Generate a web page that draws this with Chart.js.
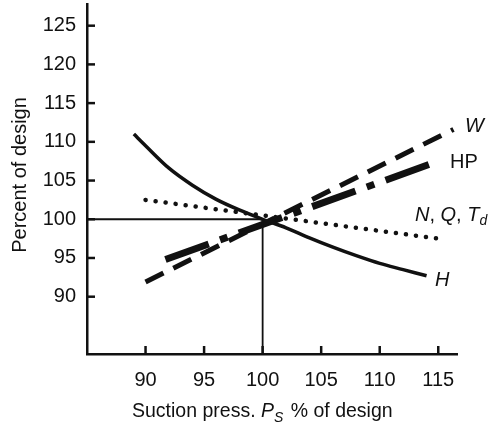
<!DOCTYPE html>
<html>
<head>
<meta charset="utf-8">
<script src="https://cdn.jsdelivr.net/npm/chart.js@4.4.0/dist/chart.umd.min.js"></script>
<style>
  body { margin: 0; background: #fff; }
  #wrap { width: 492px; height: 425px; }
</style>
</head>
<body>
<div id="wrap"><canvas id="chart" width="492" height="425"></canvas></div>
<script>
// values
const xTicks = [90, 95, 100, 105, 110, 115];
const yTicks = [90, 95, 100, 105, 110, 115, 120, 125];

const headX = [89, 90, 92, 94, 96, 98, 100, 102, 104, 106, 108, 110, 112, 114];
const headY = [111, 109.5, 106.6, 104.4, 102.6, 101.2, 100, 98.9, 97.6, 96.4, 95.3, 94.3, 93.5, 92.7];

const speedX = [90, 115];
const speedY = [102.5, 97.5];

const powerX = [90, 116.3];
const powerY = [91.9, 111.6];

const hpX = [91.7, 115];
const hpY = [94.8, 107.5];

const designX = [85, 100, 100];
const designY = [100, 100, 82.6];

const ink = '#111';
const font = '"Liberation Sans", Arial, sans-serif';

const pts = (xs, ys) => xs.map((x, i) => ({ x: x, y: ys[i] }));

const decor = {
  id: 'decor',
  afterDraw(chart) {
    const { ctx, scales: { x, y } } = chart;
    ctx.save();
    ctx.strokeStyle = ink;
    ctx.lineWidth = 2.5;
    // inward ticks
    xTicks.forEach(v => {
      const px = x.getPixelForValue(v);
      ctx.beginPath();
      ctx.moveTo(px, y.bottom);
      ctx.lineTo(px, y.bottom - 8);
      ctx.stroke();
    });
    yTicks.forEach(v => {
      const py = y.getPixelForValue(v);
      ctx.beginPath();
      ctx.moveTo(x.left, py);
      ctx.lineTo(x.left + 8, py);
      ctx.stroke();
    });

    ctx.fillStyle = ink;
    ctx.textBaseline = 'middle';
    ctx.textAlign = 'left';
    const put = (txt, px, py, style, size) => {
      ctx.font = (style || '') + ' ' + (size || 20) + 'px ' + font;
      ctx.fillText(txt, px, py);
      return px + ctx.measureText(txt).width;
    };

    // curve labels
    put('W', 465, 126, 'italic');
    put('HP', 450, 162);
    let cx = put('N', 415, 215, 'italic');
    cx = put(', ', cx, 215);
    cx = put('Q', cx, 215, 'italic');
    cx = put(', ', cx, 215);
    cx = put('T', cx, 215, 'italic');
    put('d', cx, 221, 'italic', 14);
    put('H', 435, 280, 'italic');

    // x axis title
    cx = put('Suction press. ', 132, 412, '', 19.5);
    cx = put('P', cx, 412, 'italic', 19.5);
    cx = put('S', cx, 418, 'italic', 14);
    put(' % of design', cx + 2, 412, '', 19.5);

    // y axis title
    ctx.translate(20, 175);
    ctx.rotate(-Math.PI / 2);
    ctx.textAlign = 'center';
    ctx.font = '20px ' + font;
    ctx.fillText('Percent of design', 0, 0);
    ctx.restore();
  }
};

const noPad = s => {
  s.paddingTop = 0; s.paddingBottom = 0; s.paddingLeft = 0; s.paddingRight = 0;
};

new Chart(document.getElementById('chart'), {
  type: 'scatter',
  data: {
    datasets: [
      { data: pts(designX, designY), showLine: true, borderColor: ink, borderWidth: 1.8, pointRadius: 0, tension: 0 },
      { data: pts(headX, headY), showLine: true, borderColor: ink, borderWidth: 3.5, pointRadius: 0, cubicInterpolationMode: 'monotone' },
      { data: pts(speedX, speedY), showLine: true, borderColor: ink, borderWidth: 4.5, borderCapStyle: 'round', borderDash: [0.1, 10], pointRadius: 0 },
      { data: pts(powerX, powerY), showLine: true, borderColor: ink, borderWidth: 5, borderDash: [20, 11], pointRadius: 0 },
      { data: pts(hpX, hpY), showLine: true, borderColor: ink, borderWidth: 7, borderDash: [46, 12, 8, 12], pointRadius: 0 }
    ]
  },
  options: {
    responsive: false,
    animation: false,
    layout: { padding: { top: 4, right: 35, left: 0, bottom: 0 } },
    plugins: { legend: { display: false }, tooltip: { enabled: false } },
    scales: {
      x: {
        type: 'linear', min: 85, max: 116.6,
        afterBuildTicks: s => { s.ticks = xTicks.map(v => ({ value: v })); },
        afterFit: s => { s.height = 71; noPad(s); },
        grid: { display: false, drawTicks: false },
        border: { display: true, color: ink, width: 2.5 },
        ticks: { padding: 14, color: ink, font: { family: font, size: 20 } }
      },
      y: {
        type: 'linear', min: 82.6, max: 127.8,
        afterBuildTicks: s => { s.ticks = yTicks.map(v => ({ value: v })); },
        afterFit: s => { s.width = 87; noPad(s); },
        grid: { display: false, drawTicks: false },
        border: { display: true, color: ink, width: 2.5 },
        ticks: { padding: 11, color: ink, font: { family: font, size: 20 } }
      }
    }
  },
  plugins: [decor]
});
</script>
</body>
</html>
